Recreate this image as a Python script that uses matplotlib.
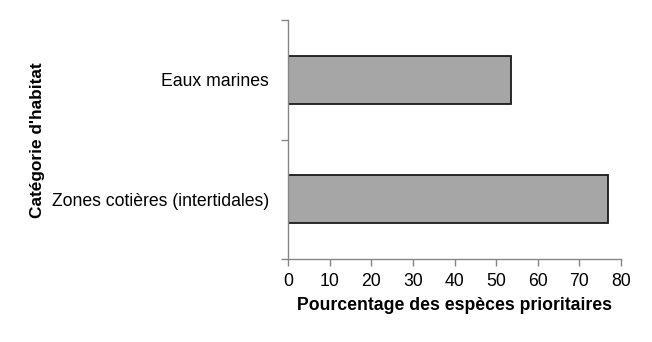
import matplotlib
matplotlib.use("Agg")
import matplotlib.pyplot as plt

categories = ["Zones cotières (intertidales)", "Eaux marines"]
values = [76.9, 53.5]
x_ticks = [0, 10, 20, 30, 40, 50, 60, 70, 80]

plt.rcParams["font.family"] = ["Liberation Sans", "DejaVu Sans"]
FS = 12.7

fig = plt.figure(figsize=(6.52, 3.42), dpi=100)
ax = fig.add_axes([0.4422, 0.2427, 0.5098, 0.6988])

pos = list(range(len(categories)))
ax.barh(pos, values, height=0.4, color="#A6A6A6", edgecolor="#1a1a1a", linewidth=1.3)

ax.set_xlim(0, 80)
ax.set_ylim(-0.5, len(categories) - 0.5)

ax.set_xticks(x_ticks)
ax.set_xticklabels([str(t) for t in x_ticks], fontsize=FS)

# category labels without tick marks, tick marks at category boundaries
ax.set_yticks([p - 0.5 for p in pos] + [pos[-1] + 0.5])
ax.set_yticklabels([])
ax.set_yticks(pos, minor=True)
ax.set_yticklabels(categories, minor=True, fontsize=FS)
ax.tick_params(axis="y", which="minor", length=0, pad=14)
ax.tick_params(axis="y", which="major", length=5, color="#868686", width=1)
ax.tick_params(axis="x", length=5, color="#868686", width=1, pad=5)

for s in ["top", "right"]:
    ax.spines[s].set_visible(False)
for s in ["left", "bottom"]:
    ax.spines[s].set_color("#868686")
    ax.spines[s].set_linewidth(1)

ax.set_xlabel("Pourcentage des espèces prioritaires", fontsize=FS, fontweight="bold", labelpad=5)
fig.text(0.057, 0.59, "Catégorie d'habitat", rotation=90, fontsize=12.4, fontweight="bold",
         ha="center", va="center")

fig.savefig("out.png", dpi=100)
